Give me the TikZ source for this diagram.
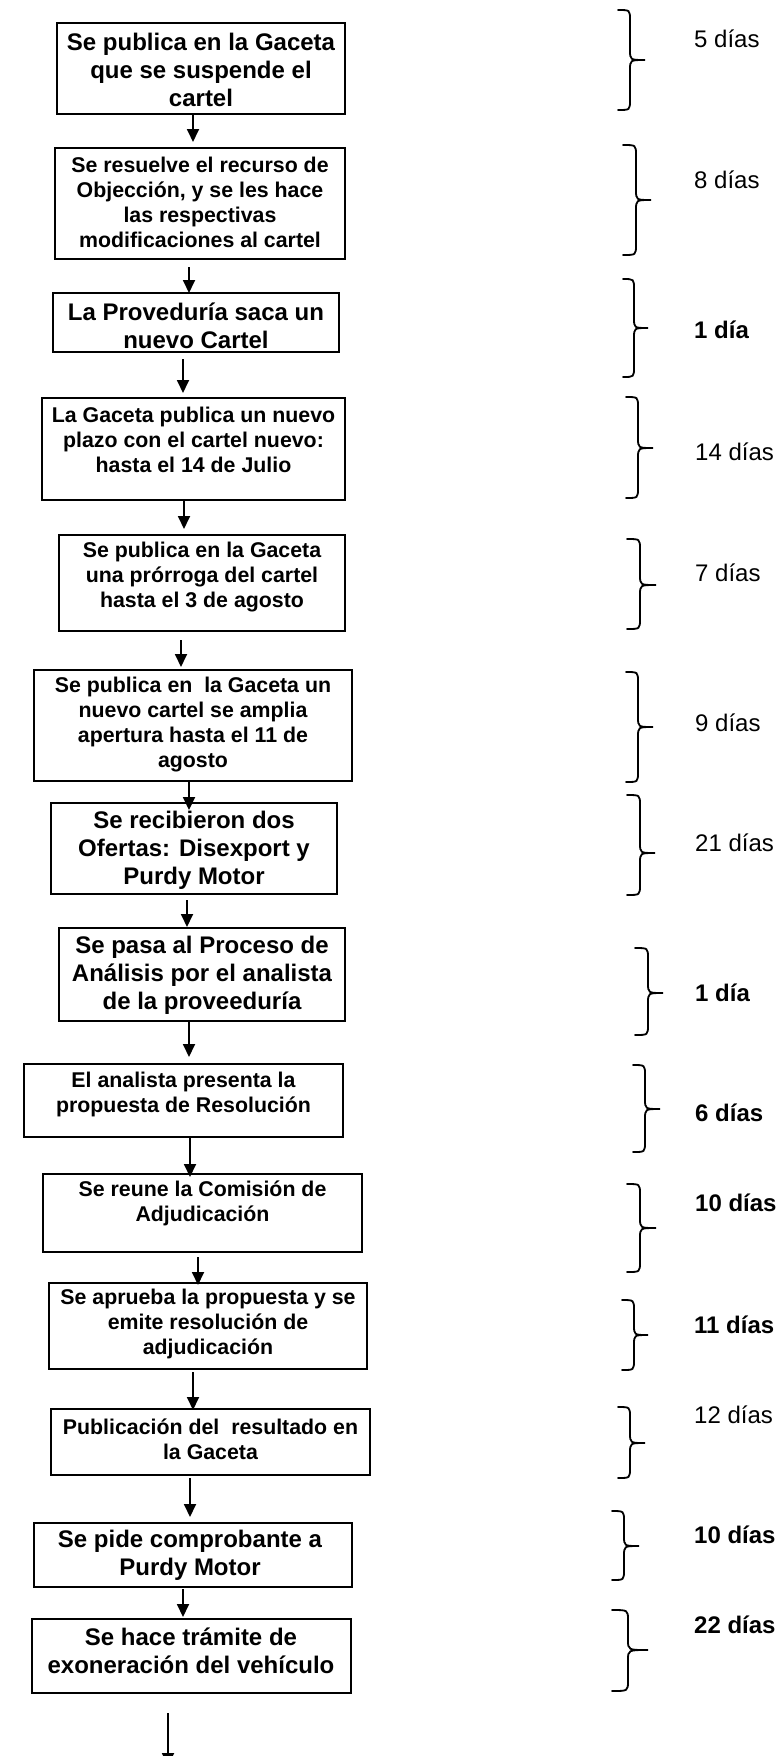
\documentclass[tikz,border=0pt]{standalone}
\usepackage{fontspec}
\setmainfont{Liberation Sans}
\usetikzlibrary{arrows.meta,calc}
\newcommand\flowarrow[5]{\draw[arr] ($(#1.south -| #3,0)+(0,#4)$) -- ($(#2.north -| #3,0)+(0,#5)$);}
\newcommand\daybrace[5]{% L top tip bot V ; tip x = T
  \draw[brc] (#1,#2) .. controls (#5,#2) .. ({#5},{#2+10}) -- ({#5},{#3-10}) .. controls (#5,#3) .. (#4,#3)
    .. controls (#5,#3) .. ({#5},{#3+10})}
\begin{document}
\begin{tikzpicture}[x=1pt,y=-1pt,
  box/.style={draw, line width=2pt, inner sep=0pt},
  t16/.style={font=\fontsize{21.33pt}{25pt}\selectfont\bfseries, align=center, inner sep=0pt},
  t18/.style={font=\fontsize{24pt}{28pt}\selectfont\bfseries, align=center, inner sep=0pt},
  dn/.style={font=\fontsize{24pt}{28pt}\selectfont, anchor=west, inner sep=0pt},
  db/.style={font=\fontsize{24pt}{28pt}\selectfont\bfseries, anchor=west, inner sep=0pt},
  arr/.style={line width=1.8pt, -{Triangle[width=12pt,length=13pt]}},
  brc/.style={line width=1.8pt, line cap=round}]
\useasboundingbox (0,0) rectangle (780,1756);
\clip (0,0) rectangle (780,1756);
\fill[white] (0,0) rectangle (780,1756);

% boxes
\node[box, minimum width=288pt, minimum height=91pt]  (b1)  at (201,68.5)   {};
\node[box, minimum width=290pt, minimum height=111pt] (b2)  at (200,203.5)  {};
\node[box, minimum width=286pt, minimum height=59pt]  (b3)  at (196,322.5)  {};
\node[box, minimum width=303pt, minimum height=102pt] (b4)  at (193.5,449)  {};
\node[box, minimum width=286pt, minimum height=96pt]  (b5)  at (202,583)    {};
\node[box, minimum width=318pt, minimum height=111pt] (b6)  at (193,725.5)  {};
\node[box, minimum width=286pt, minimum height=91pt]  (b7)  at (194,848.5)  {};
\node[box, minimum width=286pt, minimum height=93pt]  (b8)  at (202,974.5)  {};
\node[box, minimum width=319pt, minimum height=73pt]  (b9)  at (183.5,1100.5) {};
\node[box, minimum width=319pt, minimum height=78pt]  (b10) at (202.5,1213) {};
\node[box, minimum width=318pt, minimum height=86pt]  (b11) at (208,1326)   {};
\node[box, minimum width=319pt, minimum height=66pt]  (b12) at (210.5,1442) {};
\node[box, minimum width=318pt, minimum height=64pt]  (b13) at (193,1555)   {};
\node[box, minimum width=319pt, minimum height=74pt]  (b14) at (191.5,1656) {};

% texts
\node[t18] (t1)  at (201,70)      {Se publica en la Gaceta\\que se suspende el\\cartel};
\node[t16] (t2)  at (200,202.5)   {Se resuelve el recurso de\\Objección, y se les hace\\las respectivas\\modificaciones al cartel};
\node[t18] (t3)  at (196,326)     {La Proveduría saca un\\nuevo Cartel};
\node[t16] (t4)  at (193.5,440)   {La Gaceta publica un nuevo\\plazo con el cartel nuevo:\\hasta el 14 de Julio};
\node[t16] (t5)  at (202,577)     {Se publica en la Gaceta\\una prórroga del cartel\\hasta el 3 de agosto};
\node[t16] (t6)  at (193,724.5)   {Se publica en\ \ la Gaceta un\\nuevo cartel se amplia\\apertura hasta el 11 de\\agosto};
\node[t18] (t7)  at (194,850)     {Se recibieron dos\\Ofertas: Disexport y\\Purdy Motor};
\node[t18] (t8)  at (202,975)     {Se pasa al Proceso de\\Análisis por el analista\\de la proveeduría};
\node[t16] (t9)  at (183.5,1094.5){El analista presenta la\\propuesta de Resolución};
\node[t16] (t10) at (202.5,1203.5){Se reune la Comisión de\\Adjudicación};
\node[t16] (t11) at (208,1324)    {Se aprueba la propuesta y se\\emite resolución de\\adjudicación};
\node[t16] (t12) at (210.5,1439.5){Publicación del\ \ resultado en\\la Gaceta};
\node[t18] (t13) at (190,1555)    {Se pide comprobante a\\Purdy Motor};
\node[t18] (t14) at (191,1651)    {Se hace trámite de\\exoneración del vehículo};

% arrows
\flowarrow{b1}{b2}{193}{0}{-5}
\flowarrow{b2}{b3}{189}{7}{1}
\flowarrow{b3}{b4}{183}{6}{-4}
\flowarrow{b4}{b5}{184}{0}{-5}
\flowarrow{b5}{b6}{181}{8}{-2}
\flowarrow{b6}{b7}{189}{0}{8}
\flowarrow{b7}{b8}{187}{5}{0}
\flowarrow{b8}{b9}{189}{0}{-6}
\flowarrow{b9}{b10}{190}{0}{4}
\flowarrow{b10}{b11}{198}{4}{3}
\flowarrow{b11}{b12}{193}{2}{2}
\flowarrow{b12}{b13}{190}{2}{-5}
\flowarrow{b13}{b14}{183}{1}{-1}
\coordinate (fin) at (168,1766);
\draw[arr] ($(b14.south -| fin)+(0,19)$) -- (fin);

% braces: L top tip T bot V
\newcommand\brc[6]{\draw[brc] (#1,#2) .. controls (#6,#2) .. ({#6},{#2+10}) -- ({#6},{#3-10}) .. controls (#6,#3) .. (#4,#3) .. controls (#6,#3) .. ({#6},{#3+10}) -- ({#6},{#5-10}) .. controls (#6,#5) .. (#1,#5);}
\brc{618}{10}{60}{645}{110}{630}
\brc{623}{145}{200}{651}{255}{636}
\brc{623}{279}{328}{648}{377}{634}
\brc{626}{397}{448}{653}{498}{638}
\brc{627}{539}{585}{656}{629}{640}
\brc{626}{672}{727}{653}{782}{638}
\brc{627}{795}{853}{655}{895}{640}
\brc{635}{948}{993}{663}{1035}{648}
\brc{633}{1065}{1109}{660}{1152}{645}
\brc{627}{1184}{1228}{656}{1272}{640}
\brc{622}{1300}{1335}{648}{1370}{634}
\brc{618}{1407}{1443}{645}{1478}{630}
\brc{612}{1511}{1546}{639}{1580}{624}
\brc{612}{1610}{1650}{648}{1691}{628}

% day labels
\node[dn] (d1)  at (694,39)   {5 días};
\node[dn] (d2)  at (694,180)  {8 días};
\node[db] (d3)  at (694,330)  {1 día};
\node[dn] (d4)  at (695,452)  {14 días};
\node[dn] (d5)  at (695,573)  {7 días};
\node[dn] (d6)  at (695,723)  {9 días};
\node[dn] (d7)  at (695,843)  {21 días};
\node[db] (d8)  at (695,993)  {1 día};
\node[db] (d9)  at (695,1113) {6 días};
\node[db] (d10) at (695,1203) {10 días};
\node[db] (d11) at (694,1325) {11 días};
\node[dn] (d12) at (694,1415) {12 días};
\node[db] (d13) at (694,1535) {10 días};
\node[db] (d14) at (694,1625) {22 días};
\end{tikzpicture}
\end{document}
